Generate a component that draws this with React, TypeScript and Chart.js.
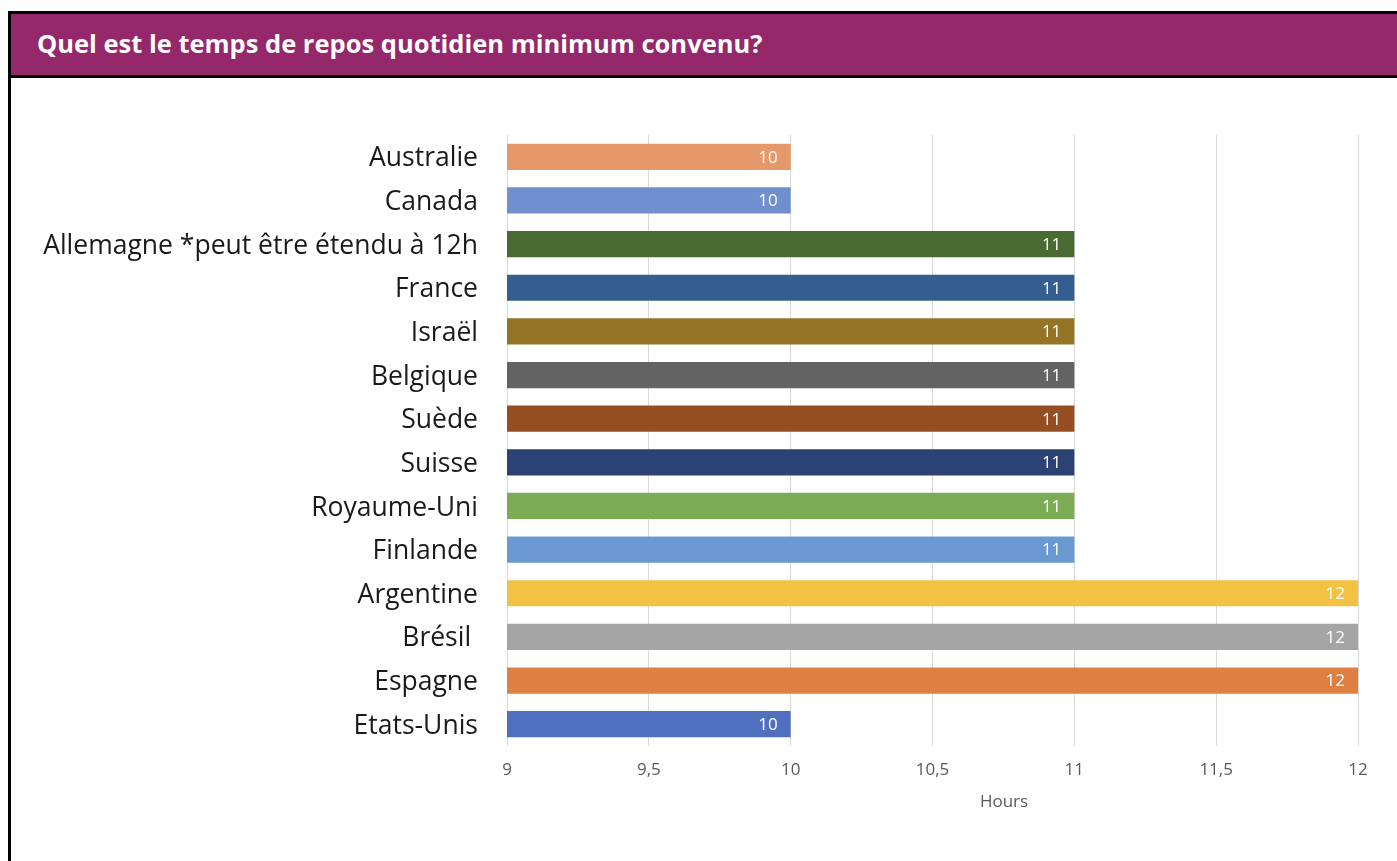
import React, { useEffect, useRef } from "react";
import { Chart, registerables } from "chart.js";

Chart.register(...registerables);

const chartTitle = "Quel est le temps de repos quotidien minimum convenu?";
const countries = [
  "Australie",
  "Canada",
  "Allemagne *peut être étendu à 12h",
  "France",
  "Israël",
  "Belgique",
  "Suède",
  "Suisse",
  "Royaume-Uni",
  "Finlande",
  "Argentine",
  "Brésil ",
  "Espagne",
  "Etats-Unis",
];
const hours = [10, 10, 11, 11, 11, 11, 11, 11, 11, 11, 12, 12, 12, 10];
const barColors = [
  "#E5996A",
  "#6F8FCE",
  "#4A6A33",
  "#345E90",
  "#937426",
  "#636363",
  "#954E22",
  "#2B4272",
  "#7CAB55",
  "#6A99D1",
  "#F3C242",
  "#A5A5A5",
  "#DF8043",
  "#5070BF",
];
const axisMin = 9;
const axisMax = 12;
const axisStep = 0.5;
const axisTitle = "Hours";

const FONT = "'Open Sans', 'DejaVu Sans', sans-serif";
const W = 1397;
const H = 861;

const fmt = (v: number) => String(v).replace(".", ",");

const labelsPlugin = {
  id: "barValueLabels",
  afterDatasetsDraw(chart: any) {
    const ctx = chart.ctx;
    const meta = chart.getDatasetMeta(0);
    ctx.save();
    ctx.font = `17px ${FONT}`;
    ctx.fillStyle = "#FFFFFF";
    ctx.textAlign = "right";
    ctx.textBaseline = "middle";
    meta.data.forEach((bar: any, i: number) => {
      ctx.fillText(fmt(hours[i]), bar.x - 13, bar.y + 1);
    });
    ctx.restore();
  },
  afterDraw(chart: any) {
    const ctx = chart.ctx;
    ctx.save();
    ctx.font = `17px ${FONT}`;
    ctx.fillStyle = "#595959";
    ctx.textAlign = "center";
    ctx.textBaseline = "middle";
    ctx.fillText(axisTitle, 1004, 802);
    ctx.restore();
  },
};

export default function App() {
  const ref = useRef<HTMLCanvasElement | null>(null);

  useEffect(() => {
    if (!ref.current) return;
    const chart = new Chart(ref.current, {
      type: "bar",
      data: {
        labels: countries,
        datasets: [
          {
            data: hours,
            backgroundColor: barColors,
            borderWidth: 0,
            barPercentage: 0.6,
            categoryPercentage: 1,
          },
        ],
      },
      options: {
        indexAxis: "y",
        responsive: false,
        animation: false,
        maintainAspectRatio: false,
        layout: { padding: { left: 0, right: 39, top: 135, bottom: 0 } },
        plugins: {
          legend: { display: false },
          tooltip: { enabled: false },
          title: { display: false },
        },
        scales: {
          x: {
            type: "linear",
            min: axisMin,
            max: axisMax,
            grid: { color: "#D9D9D9", lineWidth: 1, drawTicks: false },
            border: { display: false },
            ticks: {
              stepSize: axisStep,
              padding: 14,
              color: "#595959",
              font: { family: FONT, size: 17 },
              callback: (v: any) => fmt(Number(v)),
            },
            afterFit: (scale: any) => {
              scale.height = 115;
            },
          },
          y: {
            grid: { display: false, drawTicks: false },
            border: { display: false },
            ticks: {
              padding: 29,
              labelOffset: 2,
              color: "#1A1A1A",
              font: { family: FONT, size: 26.5 },
            },
            afterFit: (scale: any) => {
              scale.width = 507;
            },
          },
        },
      },
      plugins: [labelsPlugin],
    });
    return () => chart.destroy();
  }, []);

  return (
    <div
      style={{
        position: "fixed",
        left: 0,
        top: 0,
        width: W,
        height: H,
        overflow: "hidden",
        background: "#FFFFFF",
      }}
    >
      <div
        style={{
          position: "absolute",
          left: 8,
          top: 11,
          width: 1400,
          height: 870,
          border: "3px solid #000",
          boxSizing: "border-box",
        }}
      >
        <div
          style={{
            height: 61,
            background: "#95286A",
            borderBottom: "3px solid #000",
            color: "#FFFFFF",
            fontFamily: FONT,
            fontWeight: 700,
            fontSize: 25.5,
            lineHeight: "59px",
            paddingLeft: 26,
            whiteSpace: "nowrap",
            boxSizing: "content-box",
          }}
        >
          {chartTitle}
        </div>
      </div>
      <canvas
        ref={ref}
        width={W}
        height={H}
        style={{ position: "absolute", left: 0, top: 0, width: W, height: H }}
      />
    </div>
  );
}
